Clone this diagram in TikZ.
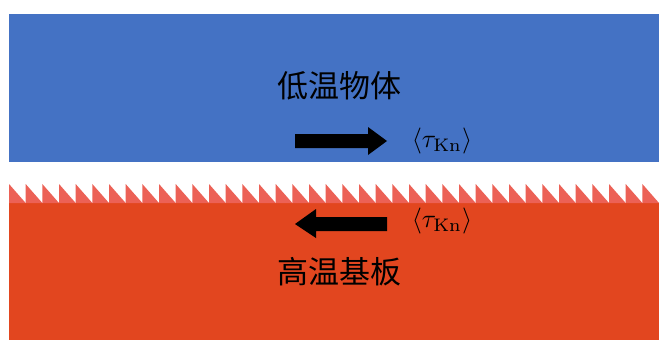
\documentclass[tikz,border=0pt]{standalone}
\usepackage{fontspec}
\newfontfamily\cjk{Noto Sans CJK SC}
\definecolor{topblue}{HTML}{4472C4}
\definecolor{botred}{HTML}{E2461F}
\definecolor{teethred}{HTML}{EC6156}
\begin{document}
\begin{tikzpicture}[x=1pt,y=-1pt,
  body/.style={font=\cjk\fontsize{31}{31}\selectfont, text=black, inner sep=0pt},
  lbl/.style={scale=2.6, inner sep=0pt},
  bigarrow/.style={fill=black, draw=none}]
\useasboundingbox (0,0) rectangle (659,340);
\fill[white] (0,0) rectangle (659,340);
% blocks
\fill[topblue] (9,14) rectangle (659,162);
\fill[botred] (9,203) rectangle (659,340);
% teeth
\foreach \i in {0,...,38} {
  \pgfmathsetmacro{\xa}{9+\i*16.6667}
  \pgfmathsetmacro{\xb}{\xa+16.6667}
  \fill[teethred] (\xa,184) -- (\xb,203) -- (\xa,203) -- cycle;
}
% texts
\node[body] (cold) at (339,86) {低温物体};
\node[body] (hot) at (339,272) {高温基板};
% arrows
\fill[bigarrow] (295,134) -- (368,134) -- (368,127) -- (387,141) -- (368,155) -- (368,148) -- (295,148) -- cycle;
\fill[bigarrow] (387,217) -- (316,217) -- (316,209) -- (295,224) -- (316,238) -- (316,231) -- (387,231) -- cycle;
\node[lbl] (tautop) at (442,141) {$\langle\tau_{\mathrm{Kn}}\rangle$};
\node[lbl] (taubot) at (442,221) {$\langle\tau_{\mathrm{Kn}}\rangle$};
\end{tikzpicture}
\end{document}
